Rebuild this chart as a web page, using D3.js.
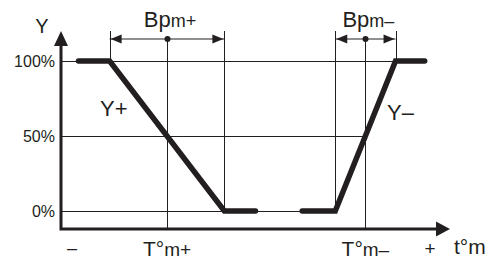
<!DOCTYPE html>
<html>
<head>
<meta charset="utf-8">
<script src="https://cdn.jsdelivr.net/npm/d3@7"></script>
<style>
  html, body { margin: 0; padding: 0; background: #fff; }
  svg { display: block; font-family: "Liberation Sans", Arial, sans-serif; }
</style>
</head>
<body>
<svg id="chart" width="488" height="259"></svg>
<script>
// Y-axis ticks (valve opening %)
const yTicks = [0, 50, 100];
const yTickLabels = ["0%", "50%", "100%"];

// Characteristic lines (x in relative temperature units, y in %)
const yPlusPts = [[4.5, 100], [12.5, 100], [42, 0], [50, 0]];
const yMinusPts = [[62, 0], [70.5, 0], [86, 100], [93.5, 100]];

// proportional bands
const bandFrom = [12.5, 70.5];
const bandTo = [42, 86];
const bandLabels = ["m+", "m\u2013"];
const curveLabels = ["Y+", "Y\u2013"];

const ink = "#231f20";

const svg = d3.select("#chart");

const x = d3.scaleLinear().domain([0, 100]).range([61, 450]);
const y = d3.scaleLinear().domain([0, 100]).range([211, 61]);

const yTop = y(120);      // arrow tip
const yBottom = y(-12);   // x axis
const yBracket = y(115);

// horizontal grid lines end where they meet the Y- line
const yMinusAt = v => {
    const [x0, y0] = yMinusPts[1], [x1, y1] = yMinusPts[2];
    return x0 + (v - y0) / (y1 - y0) * (x1 - x0);
};

const grid = svg.append("g").attr("stroke", ink).attr("stroke-width", 1);
grid.selectAll("line.h")
    .data(yTicks)
    .join("line")
    .attr("class", "h")
    .attr("x1", x(0)).attr("x2", d => x(yMinusAt(d)))
    .attr("y1", d => y(d) + 0.5).attr("y2", d => y(d) + 0.5);

// band boundaries + centre lines
const bands = d3.range(bandFrom.length).map(i => ({
    from: bandFrom[i], to: bandTo[i], mid: (bandFrom[i] + bandTo[i]) / 2,
    sub: bandLabels[i], plus: i === 0
}));

bands.forEach(b => {
    // boundary lines go down to where the curve is
    const fromBottom = b.plus ? 100 : 0;
    const toBottom = b.plus ? 0 : 100;
    grid.append("line")
        .attr("x1", Math.round(x(b.from)) + 0.5).attr("x2", Math.round(x(b.from)) + 0.5)
        .attr("y1", yTop).attr("y2", y(fromBottom));
    grid.append("line")
        .attr("x1", Math.round(x(b.to)) + 0.5).attr("x2", Math.round(x(b.to)) + 0.5)
        .attr("y1", yTop).attr("y2", y(toBottom));
    grid.append("line")
        .attr("x1", Math.round(x(b.mid)) + 0.5).attr("x2", Math.round(x(b.mid)) + 0.5)
        .attr("y1", yBracket).attr("y2", yBottom);

    // bracket with arrows
    const xa = x(b.from), xb = x(b.to);
    svg.append("line")
        .attr("x1", xa).attr("x2", xb)
        .attr("y1", yBracket + 0.5).attr("y2", yBracket + 0.5)
        .attr("stroke", ink).attr("stroke-width", 1);
    svg.append("path")
        .attr("d", `M${xa + 1},${yBracket + 0.5}l11,-4.5v9z`)
        .attr("fill", ink);
    svg.append("path")
        .attr("d", `M${xb - 1},${yBracket + 0.5}l-11,-4.5v9z`)
        .attr("fill", ink);
    svg.append("circle")
        .attr("cx", Math.round(x(b.mid)) + 0.5).attr("cy", yBracket + 0.5).attr("r", 3)
        .attr("fill", ink);

    // Bp label
    const t = svg.append("text")
        .attr("x", x(b.mid) + 3).attr("y", 27)
        .attr("text-anchor", "middle").attr("fill", ink);
    t.append("tspan").attr("font-size", 22).text("Bp");
    t.append("tspan").attr("font-size", 18).text(b.sub);

    // T°m label
    const tb = svg.append("text")
        .attr("x", x(b.mid)).attr("y", 256)
        .attr("text-anchor", "middle").attr("fill", ink);
    tb.append("tspan").attr("font-size", 21).text("T\u00b0");
    tb.append("tspan").attr("font-size", 19).text(b.sub);
});

// axes
const axes = svg.append("g").attr("stroke", ink).attr("stroke-width", 3).attr("fill", "none");
axes.append("path")
    .attr("d", `M${x(0)},${yTop + 10}V${yBottom}H${x(100) - 10}`);
svg.append("path")
    .attr("d", `M${x(0)},${yTop}l-7,15h14z`)
    .attr("fill", ink);
svg.append("path")
    .attr("d", `M${x(100)},${yBottom}l-14,-7.5v15z`)
    .attr("fill", ink);

// y tick labels
svg.append("g")
    .selectAll("text")
    .data(yTicks)
    .join("text")
    .attr("x", 55).attr("y", d => y(d) + 6)
    .attr("text-anchor", "end")
    .attr("font-size", 16)
    .attr("fill", ink)
    .text((d, i) => yTickLabels[i]);

// characteristic curves
const line = d3.line().x(d => x(d[0])).y(d => y(d[1]));
svg.selectAll("path.curve")
    .data([yPlusPts, yMinusPts])
    .join("path")
    .attr("class", "curve")
    .attr("d", line)
    .attr("fill", "none")
    .attr("stroke", ink)
    .attr("stroke-width", 5.5)
    .attr("stroke-linecap", "round")
    .attr("stroke-linejoin", "miter");

// curve labels
svg.append("text").attr("x", 100).attr("y", 116)
    .attr("font-size", 22).attr("fill", ink).text(curveLabels[0]);
svg.append("text").attr("x", 387).attr("y", 120)
    .attr("font-size", 22).attr("fill", ink).text(curveLabels[1]);

// axis labels
svg.append("text").attr("x", 42).attr("y", 33).attr("text-anchor", "middle")
    .attr("font-size", 20).attr("fill", ink).text("Y");
svg.append("text").attr("x", 72).attr("y", 254).attr("text-anchor", "middle")
    .attr("font-size", 18).attr("fill", ink).text("\u2013");
svg.append("text").attr("x", 430).attr("y", 255).attr("text-anchor", "middle")
    .attr("font-size", 19).attr("fill", ink).text("+");
svg.append("text").attr("x", 454).attr("y", 254)
    .attr("font-size", 21).attr("fill", ink).text("t\u00b0m");
</script>
</body>
</html>
